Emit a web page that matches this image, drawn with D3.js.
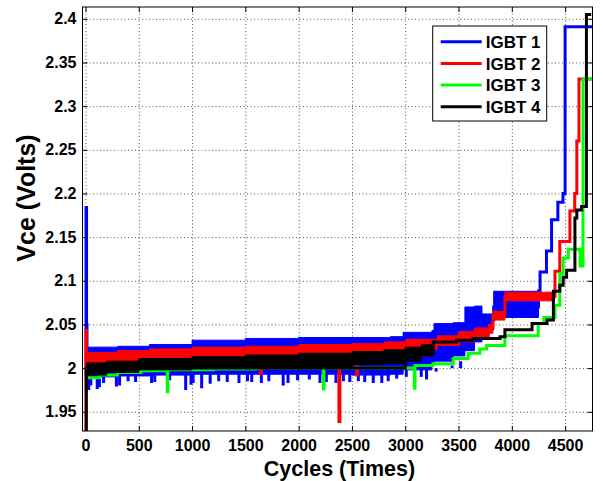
<!DOCTYPE html>
<html>
<head>
<meta charset="utf-8">
<script src="https://cdn.jsdelivr.net/npm/d3@7"></script>
<style>
  body { margin: 0; background: #fff; }
  text { font-family: "Liberation Sans", Arial, sans-serif; font-weight: bold; }
</style>
</head>
<body>
<div id="chart"></div>
<script>
var chart = {
  width: 510,
  height: 424,
  top: 7,
  right: 10.5,
  bottom: 50,
  left: 82.5,
}

/* Ticks */
const cycleTicks = [0, 500, 1000, 1500, 2000, 2500, 3000, 3500, 4000, 4500];
const vceTicks = [1.95, 2, 2.05, 2.1, 2.15, 2.2, 2.25, 2.3, 2.35, 2.4];
const cycleDomain = [-28, 4757];
const vceDomain = [1.928, 2.4135];

const seriesNames = ["IGBT 1", "IGBT 2", "IGBT 3", "IGBT 4"];
const seriesColors = ["#0000ff", "#ff0000", "#00ff00", "#000000"];

/* noisy part of each trace: [cycle, low, high] (last row only closes the band) */
const igbt1Band = [
  [18, 1.990, 2.024], [300, 1.991, 2.025], [600, 1.992, 2.027], [1000, 1.993, 2.032],
  [1500, 1.993, 2.034], [2000, 1.993, 2.035], [2500, 1.992, 2.035], [2860, 1.993, 2.036],
  [2980, 1.998, 2.041], [3250, 2.005, 2.043], [3270, 2.008, 2.051], [3450, 2.014, 2.052],
  [3560, 2.020, 2.070], [3650, 2.030, 2.071], [3720, 2.045, 2.062], [3830, 2.058, 2.088],
  [4250, 2.085, 2.090],
];
const igbt2Band = [
  [15, 2.004, 2.018], [300, 2.007, 2.020], [600, 2.009, 2.022], [1000, 2.011, 2.024],
  [1500, 2.013, 2.025], [2000, 2.015, 2.027], [2500, 2.016, 2.028], [2800, 2.018, 2.030],
  [3000, 2.021, 2.033], [3300, 2.026, 2.037], [3500, 2.030, 2.042], [3650, 2.036, 2.046],
  [3780, 2.040, 2.050], [3823, 2.055, 2.065], [3935, 2.077, 2.087], [4400, 2.080, 2.088],
];
const igbt3Band = [];
const igbt4Band = [
  [10, 1.992, 2.006], [200, 1.995, 2.008], [500, 1.998, 2.011], [1000, 2.000, 2.013],
  [1500, 2.001, 2.015], [2000, 2.002, 2.017], [2500, 2.004, 2.019], [2800, 2.005, 2.021],
  [3000, 2.008, 2.024], [3150, 2.014, 2.027], [3263, 2.028, 2.032],
];

/* downward dips of the IGBT 1 noise: [cycle, lowest Vce] */
const igbt1Dips = [
  [30, 1.975], [50, 1.980], [110, 1.976], [130, 1.978], [170, 1.983], [290, 1.979],
  [320, 1.980], [400, 1.985], [470, 1.984], [620, 1.983], [650, 1.984], [790, 1.986],
  [940, 1.975], [990, 1.981], [1010, 1.983], [1090, 1.977], [1170, 1.982], [1250, 1.985],
  [1330, 1.984], [1440, 1.983], [1520, 1.985], [1560, 1.984], [1650, 1.983], [1720, 1.985],
  [1855, 1.980], [1900, 1.983], [1990, 1.986], [2100, 1.987], [2200, 1.983], [2260, 1.984],
  [2350, 1.983], [2420, 1.985], [2480, 1.984], [2560, 1.985], [2620, 1.984], [2700, 1.983],
  [2780, 1.983], [2840, 1.985], [2920, 1.988], [3010, 1.990], [3150, 1.990], [3200, 1.987],
  [3290, 1.996], [3380, 2.000], [3440, 2.003], [3520, 2.008],
];

/* trace levels: [cycle, Vce] held until the next cycle */
const igbt1 = [
  [0, 1.990], [5, 2.184], [10, 2.050], [14, 2.000], [500, 2.005], [3000, 2.015],
  [3270, 2.028], [3560, 2.045], [3720, 2.055], [3830, 2.070], [4250, 2.088],
  [4265, 2.110], [4325, 2.134], [4373, 2.170], [4432, 2.190], [4480, 2.200],
  [4500, 2.391], [4760, 2.391],
];
const igbt2 = [
  [0, 1.920], [4, 2.043], [9, 2.011], [1640, 1.994], [1650, 2.020], [2378, 1.939],
  [2387, 2.022], [2544, 1.992], [2552, 2.025], [3000, 2.027], [3500, 2.036],
  [3780, 2.045], [3823, 2.060], [3935, 2.082], [4405, 2.111], [4450, 2.145],
  [4545, 2.180], [4590, 2.200], [4610, 2.260], [4630, 2.331], [4760, 2.331],
];
const igbt3 = [
  [20, 1.989], [130, 1.992], [300, 1.995], [520, 1.997], [767, 1.973], [772, 1.998],
  [1200, 1.999], [1600, 2.000], [2231, 1.976], [2237, 2.000], [3085, 1.977],
  [3092, 2.003], [3260, 2.005], [3450, 2.011], [3590, 2.017], [3700, 2.022],
  [3763, 2.026], [3935, 2.037], [4248, 2.051], [4300, 2.058], [4405, 2.072],
  [4450, 2.108], [4482, 2.126], [4530, 2.136], [4640, 2.117], [4668, 2.331],
  [4760, 2.331],
];
const igbt4 = [
  [0, 1.920], [8, 2.000], [3000, 2.016], [3263, 2.030], [3480, 2.032], [3636, 2.034],
  [3890, 2.036], [3935, 2.044], [4190, 2.051], [4330, 2.055], [4390, 2.088],
  [4450, 2.095], [4482, 2.104], [4514, 2.112], [4592, 2.172], [4610, 2.181],
  [4655, 2.185], [4700, 2.405], [4745, 2.405],
];

const traces = [igbt1, igbt2, igbt3, igbt4];
const bands = [igbt1Band, igbt2Band, igbt3Band, igbt4Band];
const dips = [igbt1Dips, [], [], []];

var x, y;

function initChart() {
  let svg = d3.select("#chart")
    .append("svg")
    .attr("width", chart.width + chart.left + chart.right)
    .attr("height", chart.height + chart.top + chart.bottom);

  svg.append("defs").append("clipPath")
    .attr("id", "plotClip")
    .append("rect")
    .attr("width", chart.width)
    .attr("height", chart.height);

  svg.append("g")
    .attr("id", "plot")
    .attr("transform", "translate(" + chart.left + "," + chart.top + ")");

  x = d3.scaleLinear().domain(cycleDomain).range([0, chart.width]);
  y = d3.scaleLinear().domain(vceDomain).range([chart.height, 0]);
}

function drawGrid() {
  let g = d3.select("#plot");

  /* dotted grid */
  g.append("g")
    .attr("class", "grid")
    .attr("transform", "translate(0," + chart.height + ")")
    .call(d3.axisBottom(x).tickValues(cycleTicks).tickSize(-chart.height).tickFormat(""));
  g.append("g")
    .attr("class", "grid")
    .call(d3.axisLeft(y).tickValues(vceTicks).tickSize(-chart.width).tickFormat(""));
  g.selectAll(".grid .domain").remove();
  g.selectAll(".grid line")
    .style("stroke", "#555")
    .style("stroke-width", 1)
    .style("stroke-dasharray", "1,2.5");
}

function drawAxes() {
  let g = d3.select("#plot");
  let fmt = (d) => String(+d.toFixed(2));

  g.append("g")
    .attr("class", "axis")
    .attr("transform", "translate(0," + chart.height + ")")
    .call(d3.axisBottom(x).tickValues(cycleTicks).tickSizeInner(-5).tickSizeOuter(0)
      .tickPadding(9).tickFormat(d3.format("d")));
  g.append("g")
    .attr("class", "axis")
    .call(d3.axisLeft(y).tickValues(vceTicks).tickSizeInner(-5).tickSizeOuter(0)
      .tickPadding(6).tickFormat(fmt));
  g.append("g")
    .attr("class", "axis")
    .call(d3.axisTop(x).tickValues(cycleTicks).tickSizeInner(-5).tickSizeOuter(0).tickFormat(""));
  g.append("g")
    .attr("class", "axis")
    .attr("transform", "translate(" + chart.width + ",0)")
    .call(d3.axisRight(y).tickValues(vceTicks).tickSizeInner(-5).tickSizeOuter(0).tickFormat(""));

  g.selectAll(".axis .domain").remove();
  g.selectAll(".axis line").style("stroke", "#000");
  g.selectAll(".axis text")
    .style("font-size", "16px")
    .style("font-family", "'Liberation Sans', Arial, sans-serif")
    .style("font-weight", "bold")
    .style("fill", "#000");

  /* frame */
  g.append("rect")
    .attr("width", chart.width)
    .attr("height", chart.height)
    .style("fill", "none")
    .style("stroke", "#000")
    .style("stroke-width", 1);

  /* titles */
  g.append("text")
    .attr("x", chart.width / 2 + 2)
    .attr("y", chart.height + 45)
    .style("text-anchor", "middle")
    .style("font-size", "21.5px")
    .text("Cycles (Times)");

  g.append("text")
    .attr("transform", "translate(-48," + (198 - chart.top) + ") rotate(-90)")
    .style("text-anchor", "middle")
    .style("font-size", "25px")
    .text("Vce (Volts)");
}

function plotSeries() {
  let g = d3.select("#plot")
    .append("g")
    .attr("clip-path", "url(#plotClip)");

  let area = d3.area()
    .curve(d3.curveStepAfter)
    .x((d) => x(d[0]))
    .y0((d) => y(d[1]))
    .y1((d) => y(d[2]));

  let line = d3.line()
    .curve(d3.curveStepAfter)
    .x((d) => x(d[0]))
    .y((d) => y(d[1]));

  traces.forEach((trace, i) => {
    if (bands[i].length) {
      g.append("path")
        .attr("d", area(bands[i]))
        .style("fill", seriesColors[i])
        .style("stroke", seriesColors[i])
        .style("stroke-width", 1);
    }
    g.selectAll(".dip" + i)
      .data(dips[i])
      .enter()
      .append("line")
      .attr("class", "dip" + i)
      .attr("x1", (d) => x(d[0]))
      .attr("x2", (d) => x(d[0]))
      .attr("y1", y(2.0))
      .attr("y2", (d) => y(d[1]))
      .style("stroke", seriesColors[i])
      .style("stroke-width", 3);
    g.append("path")
      .attr("d", line(trace))
      .style("fill", "none")
      .style("stroke", seriesColors[i])
      .style("stroke-width", 3);
  });
}

function drawLegend() {
  let g = d3.select("#plot")
    .append("g")
    .attr("transform", "translate(" + (432.7 - chart.left) + "," + (26 - chart.top) + ")");

  g.append("rect")
    .attr("width", 114)
    .attr("height", 95)
    .style("fill", "#fff")
    .style("stroke", "#000")
    .style("stroke-width", 1);

  let item = g.selectAll(".item")
    .data(seriesNames)
    .enter()
    .append("g")
    .attr("class", "item")
    .attr("transform", (d, i) => "translate(0," + (15.7 + i * 21.7) + ")");

  item.append("line")
    .attr("x1", 8)
    .attr("x2", 49)
    .style("stroke", (d, i) => seriesColors[i])
    .style("stroke-width", 3);

  item.append("text")
    .attr("x", 53)
    .attr("dy", "0.36em")
    .style("font-size", "17px")
    .text((d) => d);
}

initChart();
drawGrid();
plotSeries();
drawAxes();
drawLegend();
</script>
</body>
</html>
